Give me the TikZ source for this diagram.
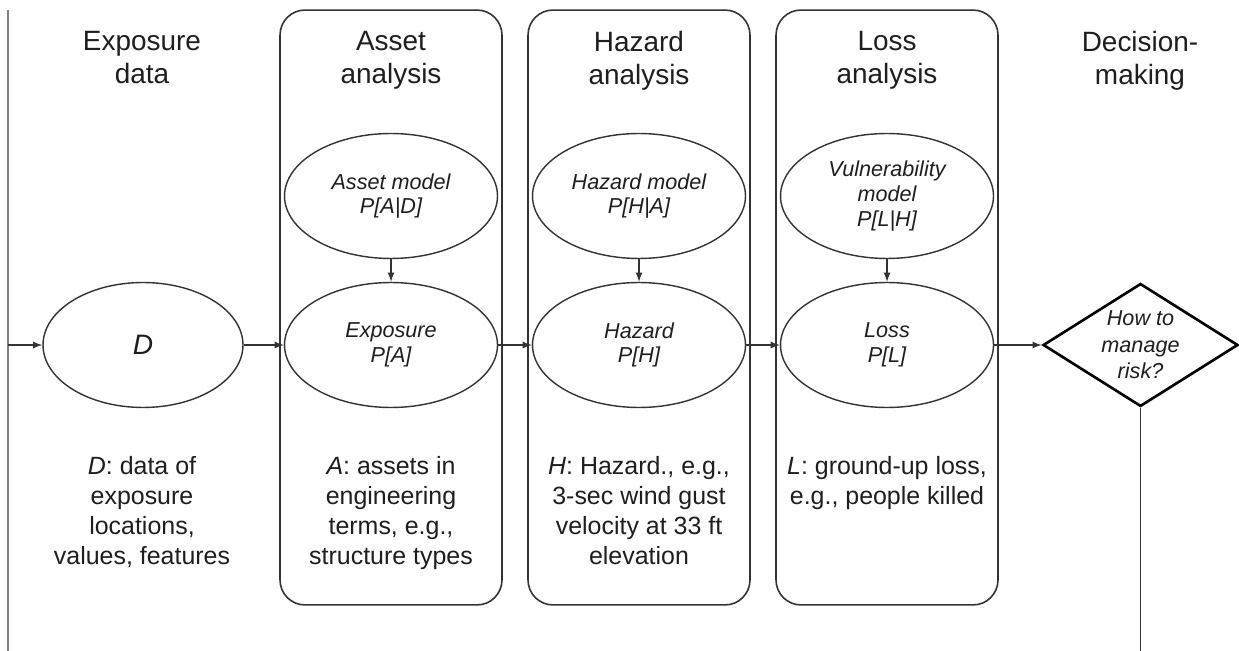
\documentclass[tikz,border=0pt]{standalone}
\usepackage{fontspec}
\setmainfont{Liberation Sans}
\usepackage{xcolor}
\usepackage{tikz}
\usetikzlibrary{shapes.geometric}

\definecolor{inkline}{HTML}{333333}
\definecolor{inktext}{HTML}{1E1E1E}

\begin{document}
\begin{tikzpicture}[
    x=0.02cm, y=-0.02cm,
    >=latex,
    line width=0.8pt,
    draw=inkline,
    every node/.style={text=inktext, font=\fontsize{14.2}{17}\selectfont},
    stage/.style={draw=inkline, line width=0.9pt, rounded corners=0.5cm,
      minimum width=4.44cm, minimum height=11.9cm, inner sep=0pt},
    heading/.style={align=center, anchor=north, inner sep=0pt,
      font=\fontsize{15.9}{18.8}\selectfont},
    model/.style={ellipse, draw=inkline, align=center, inner sep=0pt,
      minimum width=4.26cm, minimum height=2.5cm,
      font=\itshape\fontsize{12.3}{14}\selectfont},
    caption/.style={align=center, anchor=north, inner sep=0pt},
    choice/.style={diamond, draw=black, line width=1.5pt, align=center,
      inner sep=0pt, aspect=1.585, minimum width=3.9cm, minimum height=2.46cm,
      font=\itshape\fontsize{12.3}{15}\selectfont}
  ]
    \useasboundingbox (0,0) rectangle (1239,651);

    % phase frames
    \node[stage] (assetbox) at (391,307.5) {};
    \node[stage] (hazbox) at (639,307.5) {};
    \node[stage] (lossbox) at (887,307.5) {};

    % headings
    \node[heading] (hExp) at (142,31) {Exposure\\data};
    \node[heading] (hAss) at (391,31) {Asset\\analysis};
    \node[heading] (hHaz) at (639,31) {Hazard\\analysis};
    \node[heading] (hLoss) at (887,31) {Loss\\analysis};
    \node[heading] (hDec) at (1140,31) {Decision-\\making};

    % models and quantities
    \node[model, minimum width=4cm, font=\itshape\fontsize{16}{19}\selectfont] (D) at (143,345) {D};
    \node[model] (AM) at (391,196) {Asset model\\P[A|D]};
    \node[model] (AE) at (391,345) {Exposure\\P[A]};
    \node[model] (HM) at (639,196) {Hazard model\\P[H|A]};
    \node[model] (HZ) at (639,345) {Hazard\\P[H]};
    \node[model] (VM) at (887,196) {Vulnerability\\model\\P[L|H]};
    \node[model] (LS) at (887,345) {Loss\\P[L]};
    \node[choice] (Dec) at (1140.5,345) {How to\\manage\\risk?};

    % captions
    \node[caption] (cD) at (142,456) {\textit{D}: data of\\exposure\\locations,\\values, features};
    \node[caption] (cA) at (391,456) {\textit{A}: assets in\\engineering\\terms, e.g.,\\structure types};
    \node[caption] (cH) at (639,456) {\textit{H}: Hazard., e.g.,\\3-sec wind gust\\velocity at 33 ft\\elevation};
    \node[caption] (cL) at (887,456) {\textit{L}: ground-up loss,\\e.g., people killed};

    % loop ends
    \coordinate (inTop) at (8,10);
    \coordinate (inBot) at (8,651);
    \coordinate (inMid) at (8,345);
    \coordinate (outBot) at (1140.5,651);

    \draw[gray] (inTop) -- (inBot);
    \draw[->] (inMid) -- (D);
    \draw[->] (D) -- (AE);
    \draw[->] (AE) -- (HZ);
    \draw[->] (HZ) -- (LS);
    \draw[->] (LS) -- (Dec);
    \draw[->] (AM) -- (AE);
    \draw[->] (HM) -- (HZ);
    \draw[->] (VM) -- (LS);
    \draw (Dec.south) -- (outBot);
  \end{tikzpicture}
\end{document}
